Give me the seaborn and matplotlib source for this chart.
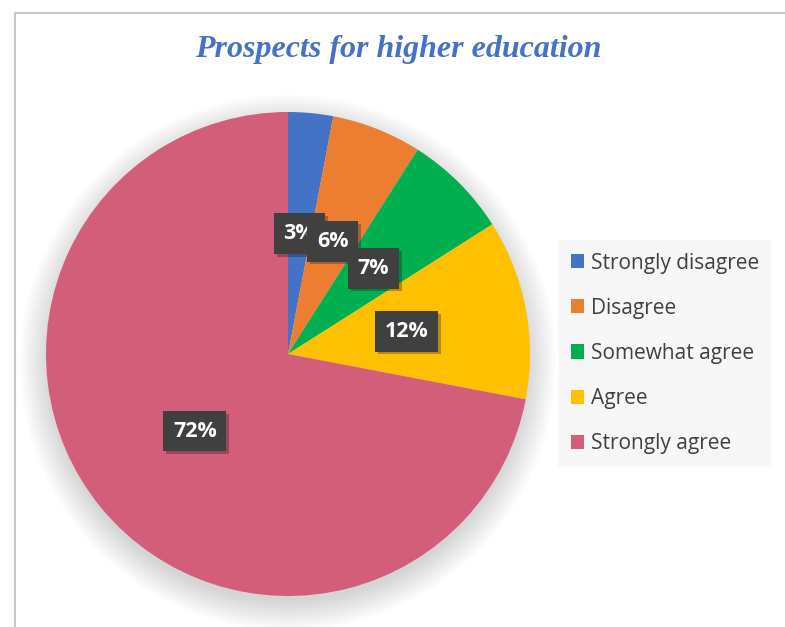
import matplotlib
matplotlib.use("Agg")
import matplotlib.pyplot as plt
import matplotlib.patheffects as pe
from matplotlib.patches import Patch, Circle
from matplotlib.lines import Line2D
import seaborn as sns

categories = ["Strongly disagree", "Disagree", "Somewhat agree", "Agree", "Strongly agree"]
values = [3, 6, 7, 12, 72]
colors = ["#4472C4", "#ED7D31", "#00B050", "#FFC000", "#D25E79"]
title = "Prospects for higher education"

sns.set_theme(style="white")
plt.rcParams['font.family'] = ['Open Sans', 'DejaVu Sans']

fig = plt.figure(figsize=(7.85, 6.27), dpi=100)
fig.patch.set_facecolor("white")

cx, cy, r = 288, 354, 242
W, H = 785, 627
ax = fig.add_axes([(cx - r) / W, (H - cy - r) / H, 2 * r / W, 2 * r / H])

# soft shadow
for k in range(14):
    ax.add_patch(Circle((0.0, -0.035), 0.99 + k * 0.009, color="#000000", alpha=0.012,
                        lw=0, zorder=0, clip_on=False))

wedges, texts, autotexts = ax.pie(
    values, colors=colors, startangle=90, counterclock=False,
    autopct=lambda p: f"{p:.0f}%", pctdistance=0.5, radius=1.0,
    wedgeprops=dict(linewidth=0, clip_on=False), frame=False)
ax.set_xlim(-1, 1)
ax.set_ylim(-1, 1)
ax.axis("off")
for t in autotexts:
    t.set_color("white")
    t.set_fontweight("bold")
    t.set_fontsize(15.5)
    t.set_bbox(dict(boxstyle="square,pad=0.45", facecolor="#404040", edgecolor="none"))
    t.get_bbox_patch().set_path_effects([pe.SimplePatchShadow(offset=(2, -2), alpha=0.3), pe.Normal()])

fig.text(398 / W, 1 - 50 / H, title, ha="center", va="center", color="#4472C4",
         fontsize=23, fontweight="bold", fontstyle="italic", family=["Liberation Serif"])

handles = [Patch(facecolor=c, edgecolor="none") for c in colors]
leg = fig.legend(handles, categories, loc="upper left",
                 bbox_to_anchor=(558 / W, 1 - 240 / H), bbox_transform=fig.transFigure,
                 borderaxespad=0, frameon=True, fontsize=15, handlelength=0.67,
                 handleheight=0.67, handletextpad=0.3, labelspacing=1.16,
                 borderpad=0.6, fancybox=False)
leg.get_frame().set_facecolor("#F5F5F5")
leg.get_frame().set_edgecolor("none")
for t in leg.get_texts():
    t.set_color("#404040")

# outer chart border (partially visible)
fig.add_artist(Line2D([15 / W, 1], [1 - 13 / H, 1 - 13 / H], transform=fig.transFigure, color="#C8C8C8", lw=1.5))
fig.add_artist(Line2D([15 / W, 15 / W], [0, 1 - 13 / H], transform=fig.transFigure, color="#C8C8C8", lw=1.5))

fig.savefig("out.png", dpi=100)
